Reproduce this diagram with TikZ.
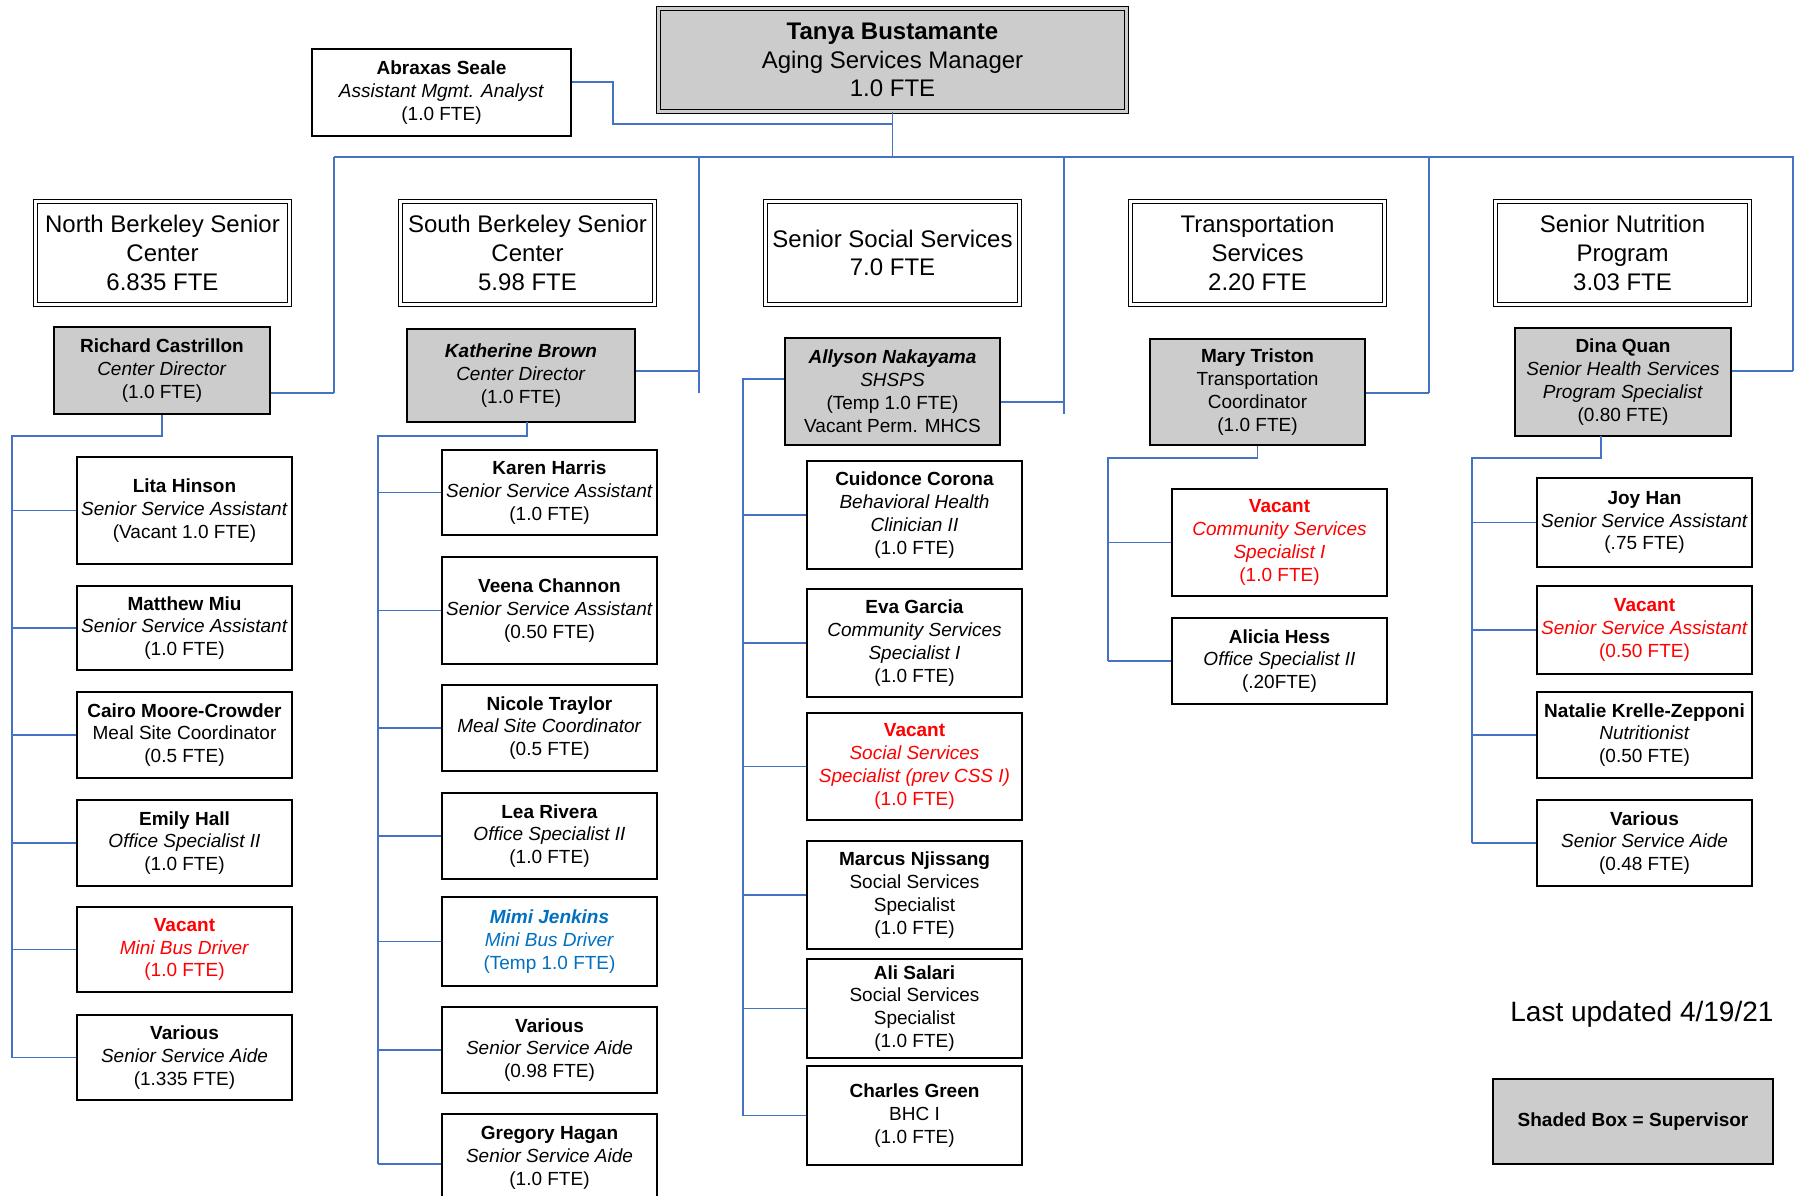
\documentclass[tikz,border=0pt]{standalone}
\usepackage{fontspec}
\setmainfont{Liberation Sans}

\definecolor{linkblue}{RGB}{68,114,196}
\definecolor{bossgray}{RGB}{204,204,204}
\definecolor{vacantred}{RGB}{255,0,0}
\definecolor{tempblue}{RGB}{0,112,192}

\newcommand{\staffsize}{\fontsize{19}{22.9}\selectfont}
\newcommand{\headsize}{\fontsize{24}{28.6}\selectfont}
\newcommand{\who}[1]{\textbf{#1}}
\newcommand{\job}[1]{\textit{#1}}

\tikzset{
  staff/.style={draw=black, line width=1.5pt, fill=white, minimum width=215,
    align=center, inner sep=0pt, font=\staffsize},
  boss/.style={staff, fill=bossgray},
  head/.style={draw=black, line width=1.1pt, double=white, double distance=2.6pt,
    fill=white, minimum width=254, minimum height=103, align=center,
    inner sep=0pt, font=\headsize},
  link/.style={draw=linkblue, line width=1.6pt},
  vacant/.style={text=vacantred},
  temp/.style={text=tempblue}
}

\begin{document}
\begin{tikzpicture}[x=1pt, y=-1pt]
  \useasboundingbox (0,0) rectangle (1794,1196);
  \clip (0,0) rectangle (1794,1196);

  % manager and assistant
  \node (tanya) [head, fill=bossgray, double=bossgray, minimum width=468]
  at (892.5,60) {\who{Tanya Bustamante}\\ Aging Services Manager\\ 1.0 FTE};
  \node (abraxas) [staff, minimum width=259, minimum height=87] at
  (441.5,92.5) {\who{Abraxas Seale}\\ \job{Assistant Mgmt. Analyst}\\ (1.0 FTE)};

  % program headers
  \node (northHead) [head] at (162.5,253) {North Berkeley Senior\\ Center\\ 6.835 FTE};
  \node (southHead) [head] at (527.5,253) {South Berkeley Senior\\ Center\\ 5.98 FTE};
  \node (sssHead) [head] at (892.5,253) {Senior Social Services\\ 7.0 FTE};
  \node (transHead) [head] at (1257.5,253) {Transportation\\ Services\\ 2.20 FTE};
  \node (nutrHead) [head] at (1622.5,253) {Senior Nutrition\\ Program\\ 3.03 FTE};

  % supervisors
  \node (northBoss) [boss, minimum width=216, minimum height=87] at
  (162,370.5) {\who{Richard Castrillon}\\ \job{Center Director}\\ (1.0 FTE)};
  \node (southBoss) [boss, minimum width=228, minimum height=93] at
  (521,375.5) {\who{\job{Katherine Brown}}\\ \job{Center Director}\\ (1.0 FTE)};
  \node (sssBoss) [boss, minimum width=215, minimum height=107] at
  (892.5,391.5) {\who{\job{Allyson Nakayama}}\\ \job{SHSPS}\\ (Temp 1.0 FTE)\\ Vacant Perm. MHCS};
  \node (transBoss) [boss, minimum width=215, minimum height=106] at
  (1257.5,392) {\who{Mary Triston}\\ Transportation\\ Coordinator\\ (1.0 FTE)};
  \node (nutrBoss) [boss, minimum width=216, minimum height=108] at
  (1623,382) {\who{Dina Quan}\\ \job{Senior Health Services}\\ \job{Program Specialist}\\ (0.80 FTE)};

  % North Berkeley staff
  \node (lita) [staff, minimum height=107] at (184.5,510.5)
  {\who{Lita Hinson}\\ \job{Senior Service Assistant}\\ (Vacant 1.0 FTE)};
  \node (matthew) [staff, minimum height=84] at (184.5,628)
  {\who{Matthew Miu}\\ \job{Senior Service Assistant}\\ (1.0 FTE)};
  \node (cairo) [staff, minimum height=86] at (184.5,735)
  {\who{Cairo Moore-Crowder}\\ Meal Site Coordinator\\ (0.5 FTE)};
  \node (emily) [staff, minimum height=86] at (184.5,843)
  {\who{Emily Hall}\\ \job{Office Specialist II}\\ (1.0 FTE)};
  \node (northDriver) [staff, vacant, minimum height=85] at (184.5,949.5)
  {\who{Vacant}\\ \job{Mini Bus Driver}\\ (1.0 FTE)};
  \node (northAide) [staff, minimum height=85] at (184.5,1057.5)
  {\who{Various}\\ \job{Senior Service Aide}\\ (1.335 FTE)};

  % South Berkeley staff
  \node (karen) [staff, minimum height=85] at (549.5,492.5)
  {\who{Karen Harris}\\ \job{Senior Service Assistant}\\ (1.0 FTE)};
  \node (veena) [staff, minimum height=107] at (549.5,610.5)
  {\who{Veena Channon}\\ \job{Senior Service Assistant}\\ (0.50 FTE)};
  \node (nicole) [staff, minimum height=86] at (549.5,728)
  {\who{Nicole Traylor}\\ \job{Meal Site Coordinator}\\ (0.5 FTE)};
  \node (lea) [staff, minimum height=86] at (549.5,836)
  {\who{Lea Rivera}\\ \job{Office Specialist II}\\ (1.0 FTE)};
  \node (mimi) [staff, temp, minimum height=89] at (549.5,941.5)
  {\who{\job{Mimi Jenkins}}\\ \job{Mini Bus Driver}\\ (Temp 1.0 FTE)};
  \node (southAide) [staff, minimum height=86] at (549.5,1050)
  {\who{Various}\\ \job{Senior Service Aide}\\ (0.98 FTE)};
  \node (gregory) [staff, minimum height=88] at (549.5,1158)
  {\who{Gregory Hagan}\\ \job{Senior Service Aide}\\ (1.0 FTE)};

  % Senior Social Services staff
  \node (cuidonce) [staff, minimum height=108] at (914.5,515)
  {\who{Cuidonce Corona}\\ \job{Behavioral Health}\\ \job{Clinician II}\\ (1.0 FTE)};
  \node (eva) [staff, minimum height=108] at (914.5,643)
  {\who{Eva Garcia}\\ \job{Community Services}\\ \job{Specialist I}\\ (1.0 FTE)};
  \node (sssVacant) [staff, vacant, minimum height=107] at (914.5,766.5)
  {\who{Vacant}\\ \job{Social Services}\\ \job{Specialist (prev CSS I)}\\ (1.0 FTE)};
  \node (marcus) [staff, minimum height=108] at (914.5,895)
  {\who{Marcus Njissang}\\ Social Services\\ Specialist\\ (1.0 FTE)};
  \node (ali) [staff, minimum height=99] at (914.5,1008.5)
  {\who{Ali Salari}\\ Social Services\\ Specialist\\ (1.0 FTE)};
  \node (charles) [staff, minimum height=99] at (914.5,1115.5)
  {\who{Charles Green}\\ BHC I\\ (1.0 FTE)};

  % Transportation staff
  \node (transVacant) [staff, vacant, minimum height=107] at (1279.5,542.5)
  {\who{Vacant}\\ \job{Community Services}\\ \job{Specialist I}\\ (1.0 FTE)};
  \node (alicia) [staff, minimum height=86] at (1279.5,661)
  {\who{Alicia Hess}\\ \job{Office Specialist II}\\ (.20FTE)};

  % Senior Nutrition staff
  \node (joy) [staff, minimum height=89] at (1644.5,522.5)
  {\who{Joy Han}\\ \job{Senior Service Assistant}\\ (.75 FTE)};
  \node (nutrVacant) [staff, vacant, minimum height=88] at (1644.5,630)
  {\who{Vacant}\\ \job{Senior Service Assistant}\\ (0.50 FTE)};
  \node (natalie) [staff, minimum height=86] at (1644.5,735)
  {\who{Natalie Krelle-Zepponi}\\ \job{Nutritionist}\\ (0.50 FTE)};
  \node (nutrAide) [staff, minimum height=86] at (1644.5,843)
  {\who{Various}\\ \job{Senior Service Aide}\\ (0.48 FTE)};

  % legend
  \node (updated) [anchor=east, font=\fontsize{28}{32}\selectfont] at
  (1777,1014) {Last updated 4/19/21};
  \node (legend) [boss, minimum width=280, minimum height=85,
  font=\staffsize\bfseries] at (1633,1121.5) {Shaded Box = Supervisor};

  % top connectors
  \coordinate (busLeft) at (334,157); \coordinate (busRight) at (1794,157);
  \coordinate (assistTurn) at (613,124);
  \draw[link] (abraxas.east |- 0,82) -| (assistTurn) -- (assistTurn -| tanya.south);
  \draw[link] (tanya.south) -- (tanya.south |- busLeft);
  \draw[link] (busLeft) -- (busRight);

  \coordinate (northDrop) at (334,393); \coordinate (southDrop) at (699,393);
  \coordinate (sssDrop) at (1064,414); \coordinate (transDrop) at (1429,393);
  \coordinate (nutrDrop) at (1793,371);
  \foreach \d in {northDrop,southDrop,sssDrop,transDrop,nutrDrop}
    \draw[link] (\d |- busLeft) -- (\d);
  \draw[link] (northBoss.east |- northDrop) -- (northDrop);
  \draw[link] (southBoss.east |- 0,371) -- (southDrop |- 0,371);
  \draw[link] (sssBoss.east |- 0,402) -- (sssDrop |- 0,402);
  \draw[link] (transBoss.east |- transDrop) -- (transDrop);
  \draw[link] (nutrBoss.east |- nutrDrop) -- (nutrDrop);

  % staff trunks
  \coordinate (northTrunk) at (12,436);
  \draw[link] (northBoss.south) |- (northTrunk) -- (northTrunk |- northAide.west);
  \foreach \n in {lita,matthew,cairo,emily,northDriver,northAide}
    \draw[link] (northTrunk |- \n.west) -- (\n.west);

  \coordinate (southTrunk) at (378,436); \coordinate (southFoot) at (527,422);
  \draw[link] (southFoot) |- (southTrunk) -- (southTrunk |- 0,1164);
  \foreach \n in {karen,veena,nicole,lea,mimi,southAide}
    \draw[link] (southTrunk |- \n.west) -- (\n.west);
  \draw[link] (southTrunk |- 0,1164) -- (gregory.west |- 0,1164);

  \coordinate (sssTrunk) at (743,379);
  \draw[link] (sssBoss.west |- sssTrunk) -- (sssTrunk) -- (sssTrunk |- charles.west);
  \foreach \n in {cuidonce,eva,sssVacant,marcus,ali,charles}
    \draw[link] (sssTrunk |- \n.west) -- (\n.west);

  \coordinate (transTrunk) at (1108,458);
  \draw[link] (transBoss.south) |- (transTrunk) -- (transTrunk |- alicia.west);
  \foreach \n in {transVacant,alicia}
    \draw[link] (transTrunk |- \n.west) -- (\n.west);

  \coordinate (nutrTrunk) at (1472,458); \coordinate (nutrFoot) at (1601,436);
  \draw[link] (nutrFoot) |- (nutrTrunk) -- (nutrTrunk |- nutrAide.west);
  \foreach \n in {joy,nutrVacant,natalie,nutrAide}
    \draw[link] (nutrTrunk |- \n.west) -- (\n.west);
\end{tikzpicture}
\end{document}
